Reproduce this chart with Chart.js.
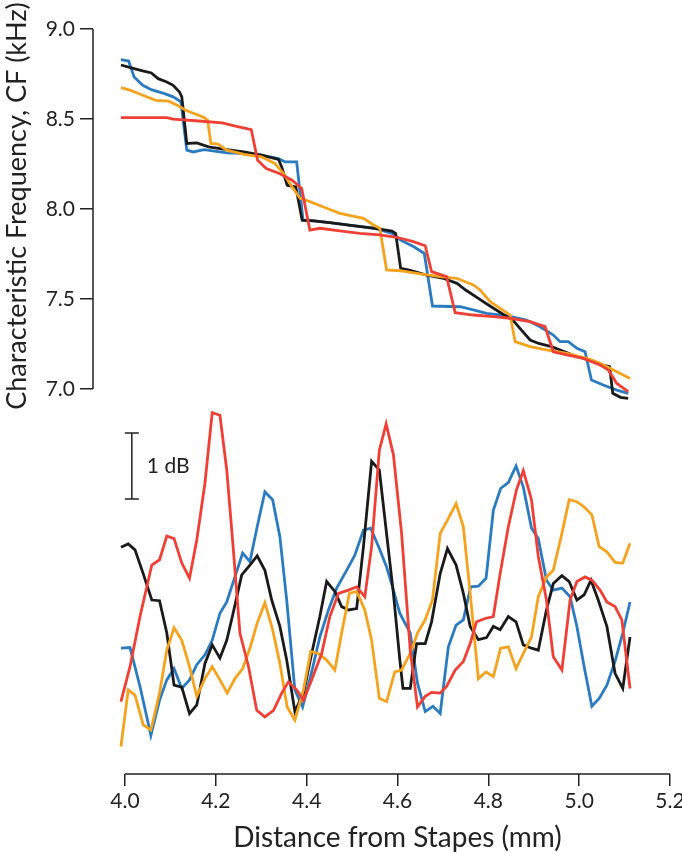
<!DOCTYPE html>
<html lang="en">
<head>
    <meta charset="UTF-8">
    <title>CF and dB vs distance from stapes</title>
    <script src="https://cdnjs.cloudflare.com/ajax/libs/Chart.js/4.4.1/chart.umd.min.js"></script>
    <style>
        body {
            margin: 0;
            background: white;
        }
        .chart-container {
            width: 682px;
            height: 853px;
            position: relative;
        }
    </style>
</head>
<body>
    <div class="chart-container">
        <canvas id="cfChart"></canvas>
    </div>

    <script>
        // tick labels
        const xTicks = [4.0, 4.2, 4.4, 4.6, 4.8, 5.0, 5.2];
        const cfTicks = [7.0, 7.5, 8.0, 8.5, 9.0];

        // top panel: characteristic frequency (kHz)
        const cfBlackX = [3.991, 4.020, 4.039, 4.058, 4.073, 4.092, 4.106, 4.120, 4.125, 4.136,
            4.158, 4.184, 4.224, 4.262, 4.300, 4.338, 4.345, 4.357, 4.376, 4.390,
            4.415, 4.455, 4.493, 4.550, 4.588, 4.596, 4.607, 4.626, 4.664, 4.702,
            4.731, 4.750, 4.778, 4.806, 4.835, 4.854, 4.873, 4.892, 4.911, 4.939,
            4.968, 4.996, 5.025, 5.053, 5.067, 5.074, 5.091, 5.108];
        const cfBlack = [8.800, 8.780, 8.767, 8.756, 8.724, 8.706, 8.687, 8.650, 8.623, 8.364,
            8.367, 8.345, 8.330, 8.317, 8.299, 8.275, 8.234, 8.132, 8.123, 7.938,
            7.934, 7.923, 7.910, 7.892, 7.877, 7.864, 7.670, 7.661, 7.633, 7.614,
            7.587, 7.550, 7.503, 7.457, 7.411, 7.383, 7.327, 7.272, 7.253, 7.235,
            7.207, 7.179, 7.161, 7.133, 7.124, 6.976, 6.954, 6.948];

        const cfBlueX = [3.991, 4.008, 4.020, 4.039, 4.058, 4.087, 4.106, 4.123, 4.136, 4.150,
            4.174, 4.224, 4.262, 4.300, 4.338, 4.352, 4.378, 4.392, 4.417, 4.455,
            4.493, 4.550, 4.588, 4.607, 4.636, 4.659, 4.677, 4.738, 4.767, 4.796,
            4.840, 4.884, 4.914, 4.943, 4.958, 4.976, 4.995, 5.013, 5.027, 5.053,
            5.083, 5.108];
        const cfBlue = [8.830, 8.822, 8.734, 8.687, 8.663, 8.641, 8.623, 8.595, 8.327, 8.317,
            8.330, 8.312, 8.308, 8.299, 8.280, 8.262, 8.262, 7.938, 7.934, 7.923,
            7.910, 7.892, 7.864, 7.827, 7.790, 7.753, 7.461, 7.457, 7.439, 7.420,
            7.407, 7.383, 7.346, 7.300, 7.263, 7.263, 7.226, 7.207, 7.050, 7.022,
            6.994, 6.976];

        const cfOrangeX = [3.991, 4.011, 4.039, 4.068, 4.096, 4.115, 4.134, 4.174, 4.182, 4.189,
            4.205, 4.224, 4.262, 4.300, 4.330, 4.349, 4.368, 4.385, 4.407, 4.444,
            4.473, 4.525, 4.547, 4.561, 4.576, 4.605, 4.650, 4.694, 4.730, 4.767,
            4.782, 4.804, 4.826, 4.848, 4.859, 4.892, 4.928, 4.973, 5.017, 5.046,
            5.068, 5.112];
        const cfOrange = [8.674, 8.660, 8.632, 8.604, 8.599, 8.576, 8.549, 8.508, 8.493, 8.364,
            8.360, 8.327, 8.304, 8.290, 8.253, 8.197, 8.123, 8.060, 8.041, 8.004,
            7.976, 7.948, 7.911, 7.893, 7.661, 7.657, 7.639, 7.624, 7.615, 7.578,
            7.550, 7.485, 7.448, 7.411, 7.263, 7.235, 7.217, 7.198, 7.170, 7.143,
            7.115, 7.059];

        const cfRedX = [3.991, 4.092, 4.106, 4.163, 4.214, 4.243, 4.278, 4.292, 4.311, 4.340,
            4.368, 4.389, 4.407, 4.429, 4.473, 4.517, 4.561, 4.598, 4.635, 4.661,
            4.675, 4.708, 4.727, 4.767, 4.811, 4.848, 4.892, 4.925, 4.943, 4.973,
            5.009, 5.046, 5.064, 5.083, 5.108];
        const cfRed = [8.508, 8.508, 8.499, 8.489, 8.478, 8.460, 8.441, 8.271, 8.225, 8.197,
            8.160, 8.114, 7.883, 7.893, 7.878, 7.865, 7.856, 7.843, 7.819, 7.796,
            7.652, 7.624, 7.424, 7.411, 7.402, 7.393, 7.374, 7.346, 7.207, 7.189,
            7.170, 7.133, 7.106, 7.031, 6.985];

        // bottom panel: relative level (dB), only a 1 dB scale bar is shown
        const dbBlackX = [3.991, 4.007, 4.022, 4.040, 4.059, 4.076, 4.092, 4.108, 4.125, 4.142,
            4.158, 4.176, 4.192, 4.209, 4.224, 4.238, 4.257, 4.275, 4.291, 4.308,
            4.323, 4.341, 4.356, 4.374, 4.393, 4.411, 4.429, 4.444, 4.462, 4.477,
            4.492, 4.510, 4.525, 4.543, 4.560, 4.576, 4.591, 4.605, 4.612, 4.628,
            4.642, 4.661, 4.675, 4.694, 4.710, 4.729, 4.745, 4.760, 4.778, 4.796,
            4.811, 4.826, 4.844, 4.861, 4.877, 4.895, 4.910, 4.928, 4.943, 4.962,
            4.978, 4.995, 5.011, 5.026, 5.042, 5.061, 5.079, 5.096, 5.112];
        const dbBlack = [0.80, 0.85, 0.76, 0.40, 0.00, -0.01, -0.50, -1.29, -1.32, -1.72,
            -1.59, -0.96, -0.68, -0.88, -0.61, -0.20, 0.38, 0.53, 0.67, 0.45,
            0.00, -0.40, -0.91, -1.69, -1.41, -0.81, -0.25, 0.28, 0.13, -0.10,
            -0.15, -0.13, 0.81, 2.10, 1.97, 1.00, 0.10, -0.90, -1.34, -1.34,
            -0.66, -0.66, -0.33, 0.40, 0.78, 0.53, 0.10, -0.40, -0.60, -0.57,
            -0.40, -0.45, -0.25, -0.33, -0.68, -0.73, -0.76, -0.15, 0.25, 0.37,
            0.28, 0.00, 0.08, 0.30, 0.00, -0.40, -1.11, -1.34, -0.56];

        const dbBlueX = [3.991, 4.011, 4.033, 4.057, 4.076, 4.092, 4.108, 4.125, 4.142, 4.158,
            4.176, 4.192, 4.209, 4.224, 4.242, 4.259, 4.275, 4.291, 4.308, 4.325,
            4.341, 4.356, 4.374, 4.391, 4.411, 4.429, 4.448, 4.466, 4.488, 4.506,
            4.525, 4.541, 4.560, 4.576, 4.591, 4.605, 4.628, 4.644, 4.661, 4.678,
            4.694, 4.712, 4.729, 4.745, 4.761, 4.778, 4.795, 4.811, 4.827, 4.844,
            4.861, 4.877, 4.895, 4.910, 4.928, 4.943, 4.962, 4.980, 4.995, 5.011,
            5.028, 5.044, 5.061, 5.079, 5.096, 5.112];
        const dbBlue = [-0.73, -0.72, -1.31, -2.05, -1.52, -1.21, -1.04, -1.34, -1.21, -0.98,
            -0.83, -0.61, -0.20, -0.03, 0.35, 0.71, 0.58, 1.11, 1.64, 1.52,
            0.96, 0.00, -1.36, -1.62, -1.09, -0.56, -0.15, 0.18, 0.45, 0.68,
            1.06, 1.09, 0.78, 0.50, 0.15, -0.20, -0.50, -1.26, -1.69, -1.61,
            -1.72, -0.71, -0.38, -0.30, 0.20, 0.21, 0.33, 1.36, 1.69, 1.78,
            2.03, 1.71, 1.09, 0.93, 0.30, 0.15, 0.18, 0.05, -0.40, -1.01,
            -1.61, -1.49, -1.29, -0.93, -0.50, -0.03];

        const dbOrangeX = [3.991, 4.007, 4.022, 4.040, 4.057, 4.076, 4.092, 4.108, 4.125, 4.142,
            4.158, 4.176, 4.192, 4.209, 4.225, 4.242, 4.259, 4.275, 4.291, 4.308,
            4.325, 4.341, 4.357, 4.374, 4.393, 4.409, 4.426, 4.444, 4.462, 4.477,
            4.494, 4.510, 4.528, 4.543, 4.560, 4.576, 4.594, 4.609, 4.628, 4.644,
            4.661, 4.677, 4.694, 4.710, 4.729, 4.745, 4.760, 4.778, 4.795, 4.811,
            4.827, 4.844, 4.861, 4.877, 4.895, 4.910, 4.928, 4.943, 4.962, 4.978,
            4.995, 5.011, 5.028, 5.044, 5.061, 5.079, 5.096, 5.112];
        const dbOrange = [-2.22, -1.36, -1.44, -1.89, -1.97, -1.41, -0.76, -0.42, -0.61, -1.01,
            -1.46, -1.19, -1.01, -1.21, -1.41, -1.19, -1.04, -0.73, -0.35, -0.04,
            -0.45, -0.96, -1.62, -1.82, -1.36, -0.78, -0.81, -0.91, -1.06, -0.50,
            0.10, 0.13, -0.15, -0.61, -1.49, -1.54, -1.09, -1.06, -0.81, -0.50,
            -0.30, 0.00, 1.01, 1.21, 1.46, 1.11, 0.10, -1.19, -1.09, -1.16,
            -0.73, -0.71, -1.04, -0.81, -0.56, 0.05, 0.35, 0.45, 1.01, 1.52,
            1.49, 1.41, 1.29, 0.81, 0.73, 0.57, 0.56, 0.86];

        const dbRedX = [3.991, 4.011, 4.033, 4.059, 4.076, 4.092, 4.108, 4.125, 4.142, 4.158,
            4.176, 4.192, 4.209, 4.224, 4.238, 4.253, 4.272, 4.290, 4.308, 4.327,
            4.345, 4.360, 4.378, 4.393, 4.411, 4.433, 4.451, 4.470, 4.492, 4.510,
            4.528, 4.543, 4.560, 4.575, 4.591, 4.609, 4.628, 4.644, 4.661, 4.675,
            4.694, 4.708, 4.727, 4.745, 4.760, 4.774, 4.793, 4.811, 4.826, 4.844,
            4.862, 4.877, 4.895, 4.910, 4.928, 4.943, 4.962, 4.980, 4.995, 5.013,
            5.028, 5.046, 5.061, 5.079, 5.094, 5.112];
        const dbRed = [-1.54, -1.01, -0.25, 0.53, 0.61, 0.97, 0.93, 0.56, 0.33, 0.91,
            1.77, 2.84, 2.80, 1.97, 0.81, -0.50, -1.01, -1.67, -1.77, -1.67,
            -1.41, -1.24, -1.36, -1.52, -1.21, -0.81, -0.25, 0.10, 0.15, 0.20,
            0.05, 0.81, 2.27, 2.67, 2.20, 1.01, -0.76, -1.62, -1.46, -1.40,
            -1.41, -1.31, -1.06, -0.93, -0.66, -0.33, -0.28, -0.25, 0.40, 1.11,
            1.67, 1.96, 1.52, 0.66, 0.00, -0.86, -1.06, 0.00, 0.28, 0.35,
            0.30, 0.15, -0.03, -0.10, -0.30, -1.34];

        // 1 dB scale bar (x position in mm, top in dB)
        const scaleBarX = 4.015;
        const scaleBarTop = 2.53;

        const BLACK = '#1a1a1a';
        const BLUE = '#2b7bc0';
        const ORANGE = '#f5a31e';
        const RED = '#ee4035';
        const FONT = 'Lato, "Open Sans", sans-serif';

        function pts(xs, ys) {
            return xs.map((x, i) => ({ x: x, y: ys[i] }));
        }

        function series(xs, ys, color, axis, order) {
            return {
                data: pts(xs, ys),
                borderColor: color,
                borderWidth: 2.8,
                pointRadius: 0,
                tension: 0,
                yAxisID: axis,
                order: order
            };
        }

        // axis lines, scale bar and titles
        const extras = {
            id: 'extras',
            afterDraw(chart) {
                const ctx = chart.ctx;
                const x = chart.scales.x;
                const cf = chart.scales.cf;
                const db = chart.scales.db;
                const area = chart.chartArea;
                ctx.save();
                ctx.strokeStyle = '#222';
                ctx.lineWidth = 1.5;
                ctx.beginPath();
                ctx.moveTo(area.left, cf.getPixelForValue(9.0));
                ctx.lineTo(area.left, cf.getPixelForValue(7.0));
                ctx.moveTo(x.getPixelForValue(4.0), area.bottom);
                ctx.lineTo(x.getPixelForValue(5.2), area.bottom);
                ctx.stroke();

                const bx = x.getPixelForValue(scaleBarX);
                const by1 = db.getPixelForValue(scaleBarTop);
                const by2 = db.getPixelForValue(scaleBarTop - 1);
                ctx.beginPath();
                ctx.moveTo(bx, by1);
                ctx.lineTo(bx, by2);
                ctx.moveTo(bx - 7, by1);
                ctx.lineTo(bx + 7, by1);
                ctx.moveTo(bx - 7, by2);
                ctx.lineTo(bx + 7, by2);
                ctx.stroke();

                ctx.fillStyle = '#222';
                ctx.font = '21px ' + FONT;
                ctx.textAlign = 'left';
                ctx.textBaseline = 'middle';
                ctx.fillText('1 dB', bx + 15, (by1 + by2) / 2);

                ctx.font = '28px ' + FONT;
                ctx.textAlign = 'center';
                ctx.textBaseline = 'alphabetic';
                ctx.fillText('Distance from Stapes (mm)',
                    (x.getPixelForValue(4.0) + x.getPixelForValue(5.2)) / 2, 847);

                ctx.font = '27px ' + FONT;
                ctx.translate(17, 206);
                ctx.rotate(-Math.PI / 2);
                ctx.textBaseline = 'middle';
                ctx.fillText('Characteristic Frequency, CF (kHz)', 0, 0);
                ctx.restore();
            }
        };

        Chart.defaults.font.family = FONT;
        Chart.defaults.color = '#222';

        new Chart(document.getElementById('cfChart'), {
            type: 'line',
            data: {
                datasets: [
                    series(cfBlueX, cfBlue, BLUE, 'cf', 4),
                    series(cfBlackX, cfBlack, BLACK, 'cf', 3),
                    series(cfOrangeX, cfOrange, ORANGE, 'cf', 2),
                    series(cfRedX, cfRed, RED, 'cf', 1),
                    series(dbBlueX, dbBlue, BLUE, 'db', 4),
                    series(dbBlackX, dbBlack, BLACK, 'db', 3),
                    series(dbOrangeX, dbOrange, ORANGE, 'db', 2),
                    series(dbRedX, dbRed, RED, 'db', 1)
                ]
            },
            options: {
                responsive: true,
                maintainAspectRatio: false,
                animation: false,
                layout: {
                    padding: { top: 29, right: 12, bottom: 0, left: 0 }
                },
                plugins: {
                    legend: { display: false },
                    tooltip: { enabled: false }
                },
                scales: {
                    x: {
                        type: 'linear',
                        min: 3.9295,
                        max: 5.2,
                        border: { display: false },
                        grid: {
                            drawOnChartArea: false,
                            tickLength: 12,
                            color: '#222',
                            lineWidth: 1.5
                        },
                        ticks: {
                            font: { size: 21 },
                            padding: 3,
                            callback: v => v.toFixed(1)
                        },
                        afterBuildTicks: s => { s.ticks = xTicks.map(v => ({ value: v })); },
                        afterFit: s => {
                            s.height = 79;
                            s.paddingLeft = 0;
                            s.paddingRight = 0;
                        }
                    },
                    cf: {
                        type: 'linear',
                        position: 'left',
                        min: 4.8611,
                        max: 9.0,
                        border: { display: false },
                        grid: {
                            drawOnChartArea: false,
                            tickLength: 13,
                            color: '#222',
                            lineWidth: 1.5
                        },
                        ticks: {
                            font: { size: 21 },
                            padding: 5,
                            callback: v => v.toFixed(1)
                        },
                        afterBuildTicks: s => { s.ticks = cfTicks.map(v => ({ value: v })); },
                        afterFit: s => {
                            s.width = 93;
                            s.paddingTop = 0;
                            s.paddingBottom = 0;
                        }
                    },
                    db: {
                        type: 'linear',
                        display: false,
                        min: -2.636,
                        max: 8.652
                    }
                }
            },
            plugins: [extras]
        });
    </script>
</body>
</html>
